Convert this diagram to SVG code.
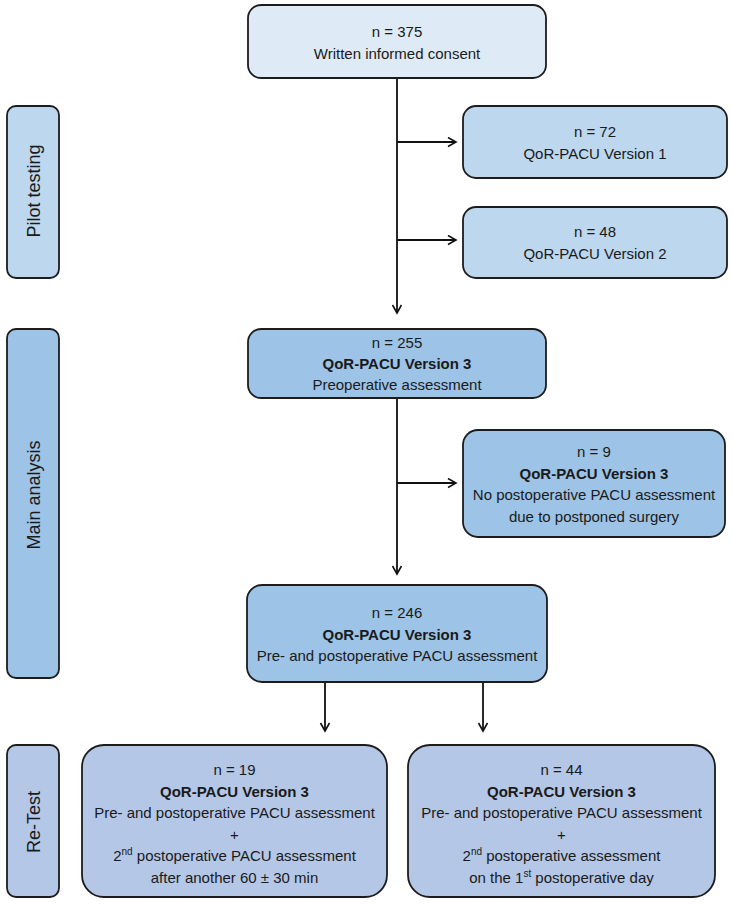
<svg xmlns="http://www.w3.org/2000/svg" width="733" height="904" viewBox="0 0 733 904">
<defs>
<marker id="ah" markerWidth="12" markerHeight="12" refX="9" refY="5" orient="auto" markerUnits="userSpaceOnUse">
<path d="M1,0.5 L9,5 L1,9.5" fill="none" stroke="#111" stroke-width="1.6"/>
</marker>
</defs>
<style>
.box{stroke:#1c1c1c;stroke-width:1.8}
.c0{fill:#deebf7}
.c1{fill:#bdd7ee}
.c2{fill:#9dc3e6}
.c3{fill:#b4c7e7}
text{font-family:"Liberation Sans",Arial,sans-serif;font-size:15px;fill:#1a1a1a;text-anchor:middle}
.b{font-weight:bold}
.side{font-size:18px}
.sup{font-size:10px}
.conn{stroke:#111;stroke-width:1.8;fill:none}
</style>
<g id="connectors">
<line class="conn" x1="397" y1="78" x2="397" y2="313" marker-end="url(#ah)"/>
<line class="conn" x1="397" y1="142" x2="456" y2="142" marker-end="url(#ah)"/>
<line class="conn" x1="397" y1="240" x2="456" y2="240" marker-end="url(#ah)"/>
<line class="conn" x1="397" y1="398" x2="397" y2="574" marker-end="url(#ah)"/>
<line class="conn" x1="397" y1="483" x2="456" y2="483" marker-end="url(#ah)"/>
<line class="conn" x1="325" y1="682" x2="325" y2="731" marker-end="url(#ah)"/>
<line class="conn" x1="483" y1="682" x2="483" y2="731" marker-end="url(#ah)"/>
</g>
<g id="pilot">
<rect class="box c1" x="7" y="106" width="52" height="172" rx="9"/>
<text class="side" transform="translate(40,191) rotate(-90)">Pilot testing</text>
</g>
<g id="main">
<rect class="box c2" x="7" y="329" width="52" height="349" rx="9"/>
<text class="side" transform="translate(40,495) rotate(-90)">Main analysis</text>
</g>
<g id="retest">
<rect class="box c3" x="7" y="745" width="52" height="152" rx="9"/>
<text class="side" transform="translate(40,822) rotate(-90)">Re-Test</text>
</g>
<g id="n375">
<rect class="box c0" x="248" y="5" width="298" height="73" rx="13"/>
<text x="397" y="37">n = 375</text>
<text x="397" y="59">Written informed consent</text>
</g>
<g id="n72">
<rect class="box c1" x="463" y="106" width="264" height="72" rx="13"/>
<text x="595" y="137">n = 72</text>
<text x="595" y="159">QoR-PACU Version 1</text>
</g>
<g id="n48">
<rect class="box c1" x="463" y="207" width="264" height="71" rx="13"/>
<text x="595" y="237">n = 48</text>
<text x="595" y="259">QoR-PACU Version 2</text>
</g>
<g id="n255">
<rect class="box c2" x="248" y="329" width="298" height="69" rx="13"/>
<text x="397" y="348">n = 255</text>
<text class="b" x="397" y="369">QoR-PACU Version 3</text>
<text x="397" y="390">Preoperative assessment</text>
</g>
<g id="n9">
<rect class="box c2" x="463" y="430" width="262" height="107" rx="15"/>
<text x="594" y="457">n = 9</text>
<text class="b" x="594" y="478.5">QoR-PACU Version 3</text>
<text x="594" y="500">No postoperative PACU assessment</text>
<text x="594" y="521.5">due to postponed surgery</text>
</g>
<g id="n246">
<rect class="box c2" x="247" y="585" width="300" height="97" rx="15"/>
<text x="397" y="618">n = 246</text>
<text class="b" x="397" y="639.5">QoR-PACU Version 3</text>
<text x="397" y="661">Pre- and postoperative PACU assessment</text>
</g>
<g id="n19">
<rect class="box c3" x="82" y="745" width="305" height="152" rx="22"/>
<text x="234.5" y="775">n = 19</text>
<text class="b" x="234.5" y="796.5">QoR-PACU Version 3</text>
<text x="234.5" y="818">Pre- and postoperative PACU assessment</text>
<text x="234.5" y="839.5">+</text>
<text x="234.5" y="861">2<tspan class="sup" dy="-6">nd</tspan><tspan dy="6"> postoperative PACU assessment</tspan></text>
<text x="234.5" y="882.5">after another 60 ± 30 min</text>
</g>
<g id="n44">
<rect class="box c3" x="408" y="745" width="307" height="152" rx="22"/>
<text x="561.5" y="775">n = 44</text>
<text class="b" x="561.5" y="796.5">QoR-PACU Version 3</text>
<text x="561.5" y="818">Pre- and postoperative PACU assessment</text>
<text x="561.5" y="839.5">+</text>
<text x="561.5" y="861">2<tspan class="sup" dy="-6">nd</tspan><tspan dy="6"> postoperative assessment</tspan></text>
<text x="561.5" y="882.5">on the 1<tspan class="sup" dy="-6">st</tspan><tspan dy="6"> postoperative day</tspan></text>
</g>
</svg>
